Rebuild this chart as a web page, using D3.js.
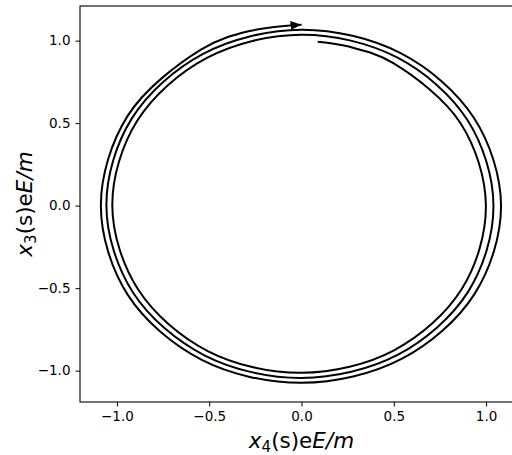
<!DOCTYPE html>
<html>
<head>
<meta charset="utf-8">
<script src="https://cdn.jsdelivr.net/npm/d3@7"></script>
<style>
  html, body { margin: 0; padding: 0; background: #fff; }
  svg { display: block; }
  text { font-family: "DejaVu Sans", sans-serif; fill: #000; }
</style>
</head>
<body>
<svg id="chart" width="512" height="455"></svg>
<script>
// Trajectory samples in the (x4, x3) plane, in order along s
const x4 = [0.088, 0.256, 0.495, 0.861, 0.999, 0.869, 0.504, 0.000, -0.508, -0.884, -1.025, -0.890, -0.515,
            0.000, 0.518, 0.899, 1.040, 0.903, 0.523, 0.000, -0.526, -0.913, -1.057, -0.919, -0.533,
            0.000, 0.537, 0.933, 1.081, 0.937, 0.542, 0.000, -0.543, -0.941, -1.087, -0.942, -0.545,
            -0.282, 0.000];
const x3 = [0.993, 0.964, 0.865, 0.501, 0.000, -0.504, -0.875, -1.013, -0.881, -0.510, 0.000, 0.514, 0.894,
            1.036, 0.898, 0.519, 0.000, -0.521, -0.903, -1.044, -0.907, -0.526, 0.000, 0.529, 0.920,
            1.066, 0.924, 0.534, 0.000, -0.536, -0.929, -1.074, -0.933, -0.541, 0.000, 0.544, 0.946,
            1.058, 1.096];

const xTicks = [-1.0, -0.5, 0.0, 0.5, 1.0];
const yTicks = [-1.0, -0.5, 0.0, 0.5, 1.0];
const xDomain = [-1.2, 1.2];
const yDomain = [-1.19, 1.21];

const svg = d3.select("#chart");
const plot = { left: 80, right: 523, top: 6, bottom: 402 };

const x = d3.scaleLinear().domain(xDomain).range([plot.left, plot.right]);
const y = d3.scaleLinear().domain(yDomain).range([plot.bottom, plot.top]);
const fmt = d3.format(".1f");

// arrow head at the end of the trajectory
svg.append("defs").append("marker")
  .attr("id", "head")
  .attr("markerUnits", "userSpaceOnUse")
  .attr("markerWidth", 13).attr("markerHeight", 11)
  .attr("refX", 11).attr("refY", 4.5)
  .attr("orient", "auto")
  .append("path")
  .attr("d", "M0,0 L11,4.5 L0,9 Z")
  .attr("fill", "#000");

const pts = x4.map((v, i) => [v, x3[i]]);
const line = d3.line()
  .x(d => x(d[0]))
  .y(d => y(d[1]))
  .curve(d3.curveCatmullRom.alpha(0.5));

svg.append("path")
  .datum(pts)
  .attr("d", line)
  .attr("fill", "none")
  .attr("stroke", "#000")
  .attr("stroke-width", 2)
  .attr("marker-end", "url(#head)");

// axes
const xAxis = d3.axisBottom(x).tickValues(xTicks).tickFormat(fmt).tickSize(4.5).tickPadding(5);
const yAxis = d3.axisLeft(y).tickValues(yTicks).tickFormat(fmt).tickSize(4.5).tickPadding(5);

const gx = svg.append("g").attr("transform", `translate(0,${plot.bottom})`).call(xAxis);
const gy = svg.append("g").attr("transform", `translate(${plot.left},0)`).call(yAxis);
[gx, gy].forEach(g => {
  g.select(".domain").remove();
  g.selectAll(".tick line").attr("stroke", "#000").attr("stroke-width", 1);
  g.selectAll(".tick text").style("font-size", "13.5px").style("font-family", "'DejaVu Sans', sans-serif").attr("fill", "#000");
});

// frame
svg.append("rect")
  .attr("x", plot.left).attr("y", plot.top)
  .attr("width", plot.right - plot.left).attr("height", plot.bottom - plot.top)
  .attr("fill", "none").attr("stroke", "#000").attr("stroke-width", 1.1);

// axis labels
const xl = svg.append("text")
  .attr("x", (plot.left + plot.right) / 2).attr("y", 448)
  .attr("text-anchor", "middle")
  .style("font-size", "21.5px");
xl.append("tspan").attr("font-style", "italic").text("x");
xl.append("tspan").attr("font-size", "15px").attr("dy", 4).text("4");
xl.append("tspan").attr("dy", -4).text("(s)e");
xl.append("tspan").attr("font-style", "italic").text("E/m");

const yl = svg.append("text")
  .attr("transform", `translate(32,${(plot.top + plot.bottom) / 2}) rotate(-90)`)
  .attr("text-anchor", "middle")
  .style("font-size", "21.5px");
yl.append("tspan").attr("font-style", "italic").text("x");
yl.append("tspan").attr("font-size", "15px").attr("dy", 4).text("3");
yl.append("tspan").attr("dy", -4).text("(s)e");
yl.append("tspan").attr("font-style", "italic").text("E/m");
</script>
</body>
</html>
